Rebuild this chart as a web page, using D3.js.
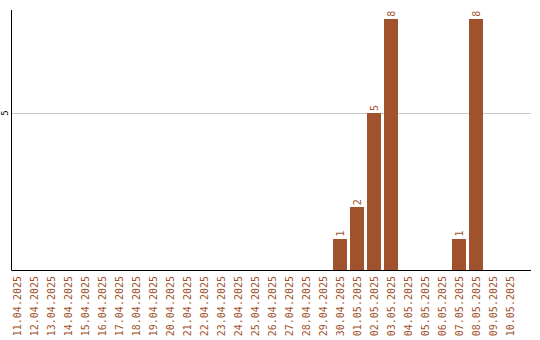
<!DOCTYPE html>
<html>
<head>
<meta charset="utf-8">
<script src="https://cdn.jsdelivr.net/npm/d3@7"></script>
<style>
  body { margin: 0; background: #fff; }
  text { font-family: "DejaVu Sans Mono", monospace; }
</style>
</head>
<body>
<div class="canvas"></div>
<script>
// data
const dates = ['11.04.2025','12.04.2025','13.04.2025','14.04.2025','15.04.2025','16.04.2025',
    '17.04.2025','18.04.2025','19.04.2025','20.04.2025','21.04.2025','22.04.2025','23.04.2025',
    '24.04.2025','25.04.2025','26.04.2025','27.04.2025','28.04.2025','29.04.2025','30.04.2025',
    '01.05.2025','02.05.2025','03.05.2025','04.05.2025','05.05.2025','06.05.2025','07.05.2025',
    '08.05.2025','09.05.2025','10.05.2025'];
const counts = [0,0,0,0,0,0,0,0,0,0,0,0,0,0,0,0,0,0,0,1,2,5,8,0,0,0,1,8,0,0];
const yTicks = [5];

const data = dates.map((d, i) => ({ date: d, count: counts[i] }));
const barColor = '#a0522d';

const svg = d3.select('.canvas')
    .append('svg')
        .attr('width', 540)
        .attr('height', 340);

// plot area
const plot = { left: 11, right: 531, top: 10, bottom: 270 };

// scales
const x = d3.scaleBand()
    .domain(dates)
    .range([8.5, 518.5])
    .paddingInner(0.176)
    .paddingOuter(0.088);

const y = d3.scaleLinear()
    .domain([0, 8.28])
    .range([plot.bottom, plot.top]);

// gridline
svg.selectAll('line.grid')
    .data(yTicks)
    .enter().append('line')
    .attr('class', 'grid')
    .attr('x1', plot.left).attr('x2', plot.right)
    .attr('y1', d => Math.round(y(d)) + 0.5).attr('y2', d => Math.round(y(d)) + 0.5)
    .attr('stroke', '#c8c8c8');

// bars
svg.selectAll('rect')
    .data(data.filter(d => d.count > 0))
    .enter().append('rect')
    .attr('x', d => Math.round(x(d.date)))
    .attr('width', Math.round(x.bandwidth()))
    .attr('y', d => Math.round(y(d.count)))
    .attr('height', d => plot.bottom - Math.round(y(d.count)))
    .attr('fill', barColor);

// value labels
svg.selectAll('text.val')
    .data(data.filter(d => d.count > 0))
    .enter().append('text')
    .attr('class', 'val')
    .attr('transform', d => `translate(${x(d.date) + x.bandwidth() / 2 + 3.5}, ${y(d.count) - 2}) rotate(-90)`)
    .attr('font-size', 10)
    .attr('fill', barColor)
    .text(d => d.count);

// axes lines
svg.append('path')
    .attr('d', `M${plot.left + 0.5},${plot.top} V${plot.bottom + 0.5} H${plot.right}`)
    .attr('fill', 'none')
    .attr('stroke', '#000')
    .attr('stroke-width', 1);

// y tick labels
svg.selectAll('text.ytick')
    .data(yTicks)
    .enter().append('text')
    .attr('class', 'ytick')
    .attr('transform', d => `translate(7.5, ${y(d)}) rotate(-90)`)
    .attr('text-anchor', 'middle')
    .attr('font-size', 9)
    .attr('fill', '#000')
    .text(d => d);

// x tick labels
svg.selectAll('text.xtick')
    .data(dates)
    .enter().append('text')
    .attr('class', 'xtick')
    .attr('transform', d => `translate(${x(d) + x.bandwidth() / 2 + 4}, 276) rotate(-90)`)
    .attr('text-anchor', 'end')
    .attr('font-size', 10)
    .attr('fill', barColor)
    .text(d => d);
</script>
</body>
</html>
